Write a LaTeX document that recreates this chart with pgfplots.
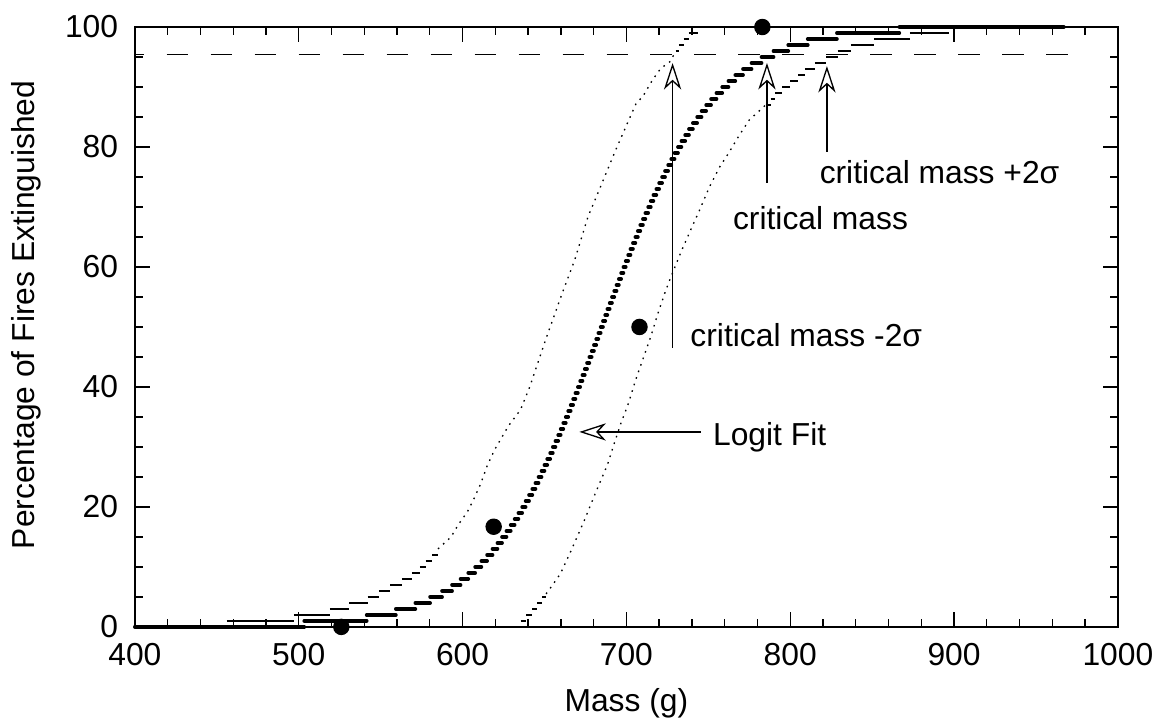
\documentclass[border=0pt]{standalone}
\usepackage{pgfplots}
\pgfplotsset{compat=1.18}
\usetikzlibrary{arrows.meta}
\usepackage{fontspec}
\setmainfont{Liberation Sans}

\begin{document}
\begin{tikzpicture}[font=\fontsize{12}{14.4}\selectfont]
\begin{axis}[
  scale only axis, width=371pt, height=226.4pt,
  xmin=400, xmax=1000, ymin=0, ymax=100,
  xtick={400,500,...,1000}, ytick={0,20,...,100},
  minor x tick num=4, minor y tick num=3,
  tick align=inside, xtick pos=both, ytick pos=both,
  xticklabel pos=left, yticklabel pos=left,
  major tick length=5.7pt, minor tick length=3pt,
  tick style={black, line width=0.5pt},
  axis line style={line width=0.5pt},
  /pgf/number format/assume math mode=true,
  /pgf/number format/1000 sep={},
  xticklabel style={yshift=-2.8pt},
  yticklabel style={xshift=-2.8pt},
  xlabel={Mass (g)}, ylabel={Percentage of Fires Extinguished},
  xlabel style={at={(axis description cs:0.5,-0.127)}, anchor=center},
  ylabel style={at={(axis description cs:-0.110,0.52)}, anchor=center},
  clip=false,
  band/.style={black, line width=0.45pt, forget plot},
  banddot/.style={black, line width=0.5pt, dash pattern=on 0.6pt off 2.0pt, forget plot},
]

% lower confidence band (-2 sigma), left curve
\addplot[band, jump mark left] coordinates {(400,0) (456,1) (497,2) (519,3) (531,4) (542,5) (549,6) (556,7) (563,8) (569,9) (574,10) (577.5,11) (581.5,12) (585,12)};
\addplot[banddot] coordinates {(585,13) (588.6,13.9) (593,15) (597.3,17) (603,19.2) (606.7,21.2) (611.3,24) (614.8,26.7) (619.5,29.5) (628,33.5) (635.4,36.2) (641,40) (651,48.1) (660.4,55.3) (668.5,61.2) (676.6,68.4) (683.8,73.1) (693,79.2) (701,84.2) (706,87.3) (710,88.4) (716,91.2) (721,93.1) (727,94.3) (730,96)};
\addplot[band, jump mark left] coordinates {(730,96) (732,97) (735,98) (738,99) (744,100) (760,100)};

% upper confidence band (+2 sigma), right curve
\addplot[band, jump mark left] coordinates {(400,0) (635.5,1) (639,2) (642.5,3) (645.5,4) (648.5,5) (651,5)};
\addplot[banddot] coordinates {(651,5.5) (655,7) (659.8,8.9) (666.4,12.8) (674.4,17.8) (681.4,22.5) (688.4,27) (691.9,30) (696.6,33.9) (701.3,37.3) (705.7,41.2) (710.8,45.2) (714.9,48.4) (719.3,52.3) (723.4,55.6) (726.4,57.8) (733.5,62.6) (739.6,66.4) (744.7,69.5) (750.8,73.4) (757,76.7) (762,78.8) (769,82) (775,84.5) (783,86.5) (785,87)};
\addplot[band, jump mark left] coordinates {(785,87) (788,88) (791,89) (795,90) (800,91) (805,92) (809,93) (815,94) (822,95) (829,96) (837,97) (851,98) (873,99) (897,100) (967,100)};

% logit fit
\addplot[black, line width=1.4pt, line cap=round, jump mark left, forget plot] coordinates {
(400,0) (503.4,1) (541.5,2) (559.3,3) (571.2,4) (580.2,5) (587.5,6) (593.6,7) (598.8,8) (603.5,9)
(607.7,10) (611.5,11) (615.0,12) (618.3,13) (621.3,14) (624.1,15) (626.8,16) (629.4,17) (631.8,18) (634.1,19)
(636.4,20) (638.5,21) (640.6,22) (642.6,23) (644.5,24) (646.4,25) (648.2,26) (650.0,27) (651.7,28) (653.5,29)
(655.1,30) (656.7,31) (658.4,32) (659.9,33) (661.5,34) (663.0,35) (664.5,36) (666.0,37) (667.5,38) (668.9,39)
(670.4,40) (671.8,41) (673.2,42) (674.6,43) (676.0,44) (677.4,45) (678.8,46) (680.2,47) (681.6,48) (682.9,49)
(684.3,50) (685.7,51) (687.1,52) (688.4,53) (689.8,54) (691.2,55) (692.6,56) (694.0,57) (695.4,58) (696.8,59)
(698.2,60) (699.6,61) (701.1,62) (702.5,63) (704.0,64) (705.5,65) (707.0,66) (708.5,67) (710.1,68) (711.6,69)
(713.3,70) (714.9,71) (716.5,72) (718.3,73) (720.0,74) (721.8,75) (723.6,76) (725.5,77) (727.4,78) (729.4,79)
(731.5,80) (733.6,81) (735.9,82) (738.2,83) (740.6,84) (743.2,85) (745.9,86) (748.7,87) (751.7,88) (755.0,89)
(758.5,90) (762.3,91) (766.5,92) (771.2,93) (776.4,94) (782.5,95) (789.8,96) (798.8,97) (810.7,98) (828.5,99)
(866.6,100) (967,100)};

% observed data
\addplot[only marks, mark=*, mark size=2.9pt, black] coordinates {(526,0) (619,16.7) (708,50) (783,100)};

% 95.45 % level
\draw[black, line width=0.6pt, dash pattern=on 8pt off 8.6pt, dash phase=4.6pt] (axis cs:400,95.45) -- (axis cs:971,95.45);

% annotation arrows
\draw[black, line width=0.5pt, -{Stealth[open, length=10pt, width=6.5pt, inset=3pt]}] (axis cs:728.2,46.5) -- (axis cs:728.2,94);
\draw[black, line width=0.5pt, -{Stealth[open, length=10pt, width=6.5pt, inset=3pt]}] (axis cs:785.8,74) -- (axis cs:785.8,94);
\draw[black, line width=0.5pt, -{Stealth[open, length=10pt, width=6.5pt, inset=3pt]}] (axis cs:822.4,79.2) -- (axis cs:822.4,93.5);
\draw[black, line width=0.5pt, -{Stealth[open, length=10pt, width=6.5pt, inset=3pt]}] (axis cs:745.5,32.5) -- (axis cs:671.3,32.5);

\node[anchor=base west, inner sep=0pt] at (axis cs:817.7,73.95) {critical mass +2σ};
\node[anchor=base west, inner sep=0pt] at (axis cs:764.8,66.2) {critical mass};
\node[anchor=base west, inner sep=0pt] at (axis cs:738.8,46.7) {critical mass -2σ};
\node[anchor=base west, inner sep=0pt] at (axis cs:752.6,30.3) {Logit Fit};
\end{axis}
\pgfresetboundingbox
\useasboundingbox (-50.9pt,-35.8pt) rectangle (388.4pt,236.6pt);
\end{tikzpicture}
\end{document}
